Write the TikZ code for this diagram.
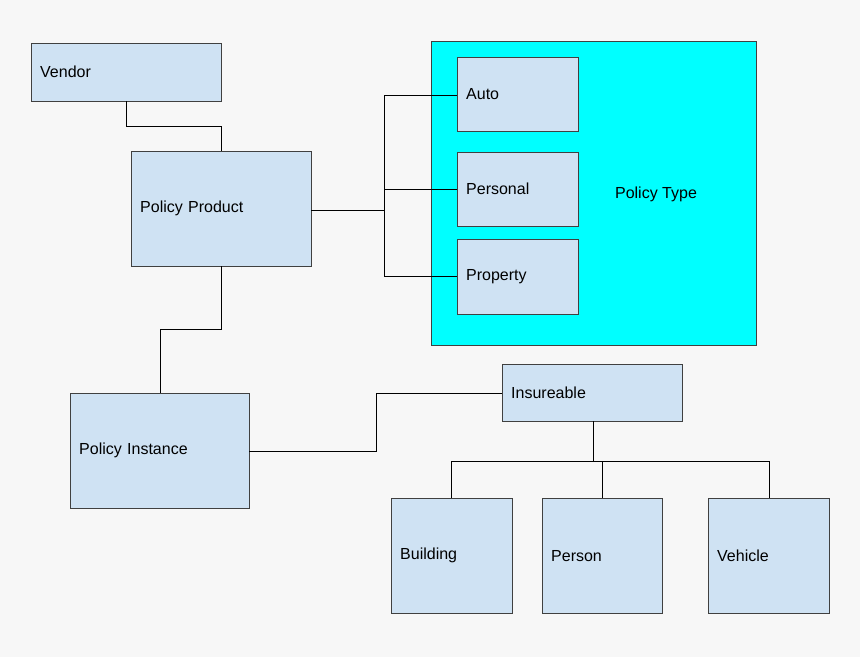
\documentclass[tikz,border=0pt]{standalone}
\usepackage{fontspec}
\setmainfont{Liberation Sans}
\usetikzlibrary{positioning, calc}
\definecolor{boxblue}{HTML}{CFE2F3}
\definecolor{bggray}{HTML}{F7F7F7}
\definecolor{typecyan}{HTML}{00FFFF}

\begin{document}
\begin{tikzpicture}[
  x=1pt, y=-1pt,
  font=\fontsize{16}{19}\selectfont,
  box/.style 2 args = {draw=black!75, fill=boxblue, rectangle, anchor=north west, inner xsep=9pt,
    minimum width=#1pt, minimum height=#2pt, text width=#1pt-18pt, align=left},
  line/.style = {draw, black, semithick}
  ]
 \fill[bggray] (0,0) rectangle (860,657);
 \useasboundingbox (0,0) rectangle (860,657);
 % Policy type group
 \node[box={325}{304}, fill=typecyan] (policytype) at (431,41) {};
 \node at (656,194) {Policy Type};
 \node[box={121}{74}] (auto) at (457,57) {Auto};
 \node[box={121}{74}] (personal) at (457,152) {Personal};
 \node[box={121}{75}] (property) at (457,239) {Property};
 % Product side
 \node[box={190}{58}] (vendor) at (31,43) {Vendor};
 \node[box={180}{115}] (product) at (131,151) {Policy Product};
 \node[box={179}{115}] (instance) at (70,393) {Policy Instance};
 % Insureables
 \node[box={180}{57}] (insureable) at (502,364) {Insureable};
 \node[box={121}{115}] (building) at (391,498) {Building};
 \node[box={120}{115}] (person) at (542,498) {Person};
 \node[box={121}{115}] (vehicle) at (708,498) {Vehicle};
 % Lines
 \coordinate (split) at (384,210);
 \draw[line] (vendor.south -| 126,0) |- (221,126) -- (product.north -| 221,0);
 \draw[line] (product.east |- split) -- (split);
 \draw[line] (384,95) -- (384,276);
 \draw[line] (384,95) -- (auto.west |- 0,95);
 \draw[line] (384,189) -- (personal.west |- 0,189);
 \draw[line] (384,276) -- (property.west |- 0,276);
 \draw[line] (product.south -| 221,0) |- (160,329) -- (instance.north -| 160,0);
 \draw[line] (instance.east |- 0,451) -| (376,393) -- (insureable.west |- 0,393);
 \draw[line] (insureable.south -| 593,0) -- (593,461);
 \draw[line] (building.north -| 451,0) |- (769,461) -- (vehicle.north -| 769,0);
 \draw[line] (602,461) -- (person.north -| 602,0);
\end{tikzpicture}
\end{document}
